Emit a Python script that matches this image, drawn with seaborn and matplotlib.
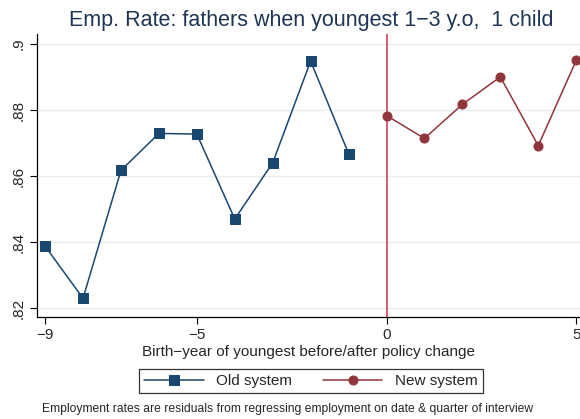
import numpy as np
import pandas as pd
import matplotlib.pyplot as plt
import seaborn as sns

plt.switch_backend('Agg')

# data
old_years = [-9, -8, -7, -6, -5, -4, -3, -2, -1]
old_rate = [0.8388, 0.8230, 0.8617, 0.8729, 0.8727, 0.8470, 0.8640, 0.8948, 0.8668]
new_years = [0, 1, 2, 3, 4, 5]
new_rate = [0.8783, 0.8714, 0.8817, 0.8900, 0.8692, 0.8950]
y_ticks = [0.82, 0.84, 0.86, 0.88, 0.90]
y_labels = ['.82', '.84', '.86', '.88', '.9']
x_ticks = [-9, -5, 0, 5]
x_labels = ['\u22129', '\u22125', '0', '5']

old_df = pd.DataFrame({'year': old_years, 'rate': old_rate})
new_df = pd.DataFrame({'year': new_years, 'rate': new_rate})

sns.set_style('white')
plt.rcParams['font.family'] = ['Liberation Sans', 'DejaVu Sans']

navy = '#1a476f'
maroon = '#90353b'

fig = plt.figure(figsize=(5.8, 4.19), dpi=100)
ax = fig.add_axes([0.064, 0.243, 0.936, 0.676])

ax.axvline(0, color='#d0405a', lw=1.2, zorder=1)
sns.lineplot(data=old_df, x='year', y='rate', ax=ax, color=navy, marker='s',
             markersize=6.5, markeredgecolor=navy, lw=1.1, label='Old system', zorder=3)
sns.lineplot(data=new_df, x='year', y='rate', ax=ax, color=maroon, marker='o',
             markersize=6.5, markeredgecolor=maroon, lw=1.1, label='New system', zorder=3)

ax.set_xlim(-9.21, 5.1)
ax.set_ylim(0.8173, 0.903)
ax.set_yticks(y_ticks)
ax.set_yticklabels(y_labels, rotation=90, va='center', fontsize=11)
ax.set_xticks(x_ticks)
ax.set_xticklabels(x_labels, fontsize=11)
ax.tick_params(axis='both', length=5, width=0.8, color='black', direction='out', pad=3)
ax.tick_params(axis='both', bottom=True, left=True)
ax.grid(axis='y', color='#e6eeef', lw=1)
ax.grid(axis='x', visible=False)
sns.despine(ax=ax, top=True, right=True)
for s in ['left', 'bottom']:
    ax.spines[s].set_color('black')
    ax.spines[s].set_linewidth(0.9)

ax.set_xlabel('Birth\u2212year of youngest before/after policy change', fontsize=11, labelpad=2)
ax.set_ylabel('')
ax.set_title('Emp. Rate: fathers when youngest 1\u22123 y.o,  1 child',
             fontsize=15.5, color='#1e3553', pad=6, x=0.505)

ax.get_legend().remove()
handles, labels = ax.get_legend_handles_labels()
leg = fig.legend(handles, labels, loc='center', bbox_to_anchor=(0.536, 0.091), ncol=2,
                 frameon=True, fancybox=False, edgecolor='black', fontsize=11,
                 handlelength=3.9, columnspacing=2.0, borderpad=0.35, handletextpad=0.8)
leg.get_frame().set_linewidth(0.9)

fig.text(0.496, 0.024, 'Employment rates are residuals from regressing employment on date & quarter of interview',
         ha='center', va='center', fontsize=8.7)

plt.savefig('out.png', dpi=100)
